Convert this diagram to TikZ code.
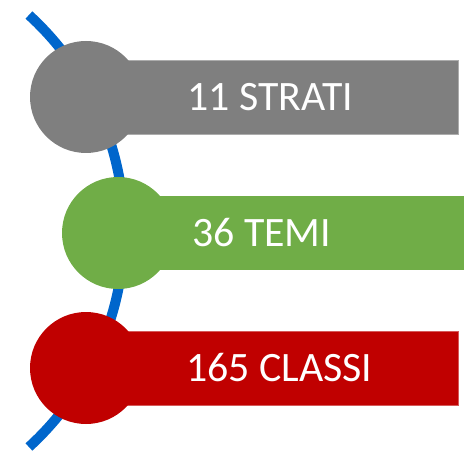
\documentclass[tikz,border=0pt]{standalone}
\usepackage{fontspec}
\setmainfont{Carlito}
\usetikzlibrary{positioning}

\definecolor{arcblue}{RGB}{0,102,204}
\definecolor{stratigray}{RGB}{127,127,127}
\definecolor{temigreen}{RGB}{112,173,71}
\definecolor{classired}{RGB}{192,0,0}

\begin{document}
\begin{tikzpicture}[x=1bp,y=-1bp,
    dot/.style={circle, minimum size=112bp, inner sep=0pt},
    bar/.style={rectangle, minimum height=74bp, inner sep=0pt, line width=0.75bp},
    txt/.style={text=white, inner sep=0pt, font=\fontsize{42}{50}\selectfont}]

                \useasboundingbox (0,0) rectangle (464,451);

                \draw[arcblue, line width=10bp] (-168.3,231) ++(47.6:292.5)
                    arc[start angle=47.6, end angle=-47.6, radius=292.5];

                \coordinate (s_0) at (86,97);
                \coordinate (s_1) at (118,233);
                \coordinate (s_2) at (86,368);

                \node[bar, fill=stratigray, draw=stratigray!65!white, minimum width=372bp] (bar_0) [right = 0bp of s_0] {};
                \node[bar, fill=temigreen, minimum width=352bp] (bar_1) [right = 0bp of s_1] {};
                \node[bar, fill=classired, draw=classired!65!white, minimum width=372bp] (bar_2) [right = 0bp of s_2] {};

                \node[dot, fill=stratigray] (dot_0) at (s_0) {};
                \node[dot, fill=temigreen]  (dot_1) at (s_1) {};
                \node[dot, fill=classired]  (dot_2) at (s_2) {};

                \node[txt] (txt_0) [right = 101bp of dot_0.center] {11 STRATI};
                \node[txt] (txt_1) [right = 74bp of dot_1.center]  {36 TEMI};
                \node[txt] (txt_2) [right = 100bp of dot_2.center] {165 CLASSI};

\end{tikzpicture}
\end{document}
